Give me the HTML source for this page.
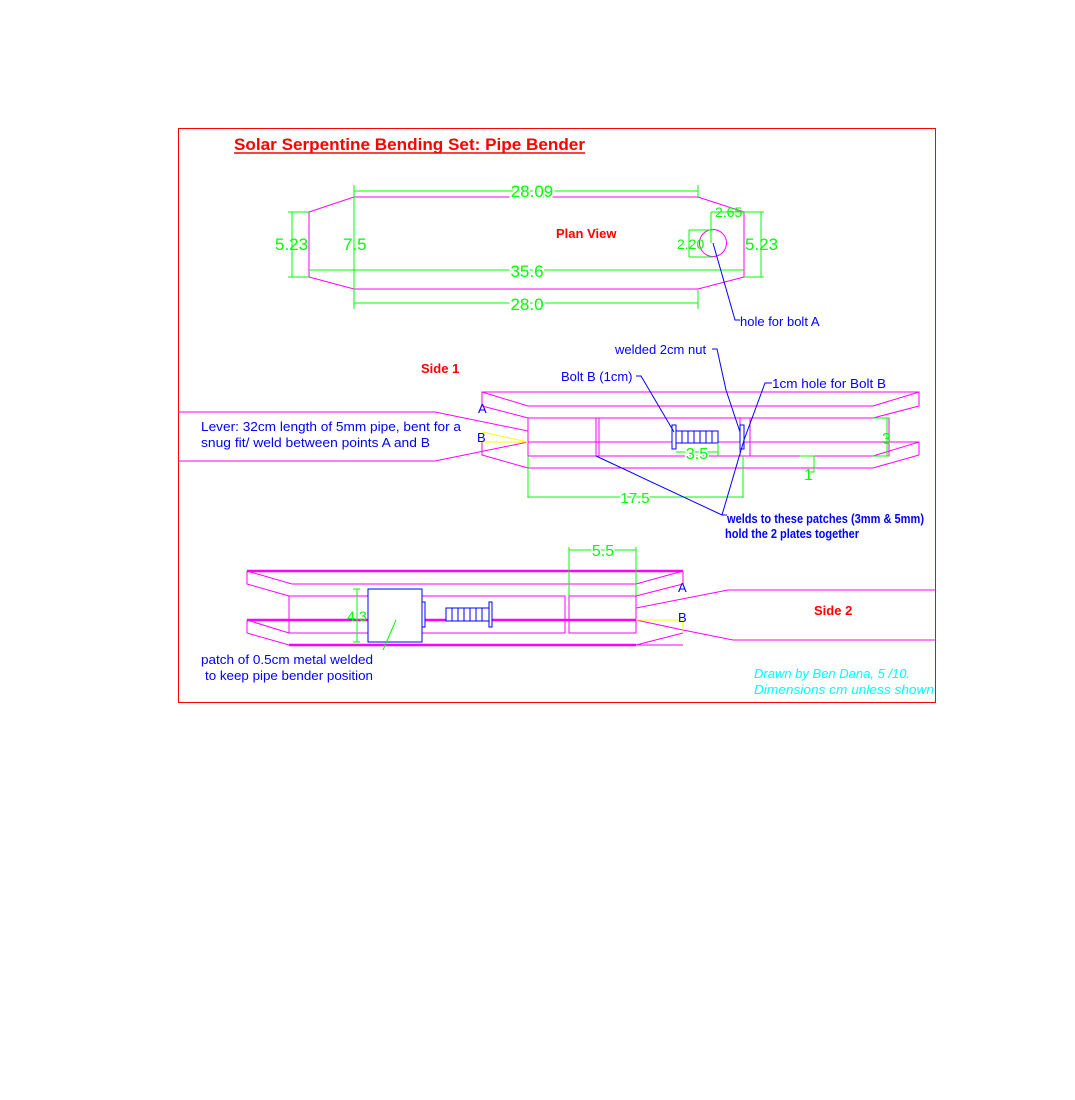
<!DOCTYPE html>
<html><head><meta charset="utf-8"><style>
html,body{margin:0;padding:0;background:#fff;}
svg{display:block;}
text{font-family:"Liberation Sans",Arial,sans-serif;}
.b{fill:#0000ff;font-size:13px;}
.r{fill:#ff0000;font-weight:bold;font-size:13px;}
</style></head><body>
<svg width="1075" height="1100" viewBox="0 0 1075 1100" xmlns="http://www.w3.org/2000/svg">
<rect x="178.5" y="128.5" width="757" height="574" fill="none" stroke="#ff0000" stroke-width="1"/>
<text x="234" y="150" fill="#ff0000" font-weight="bold" font-size="17" textLength="351" lengthAdjust="spacingAndGlyphs">Solar Serpentine Bending Set: Pipe Bender</text>
<line x1="234" y1="153" x2="585" y2="153" stroke="#ff0000" stroke-width="1.5"/>

<!-- Plan view -->
<g fill="none" stroke="#ff00ff" stroke-width="1">
<polygon points="309,212 354,197 698,197 744,212 744,277 698,289 354,289 309,277"/>
<circle cx="713" cy="243" r="13.5"/>
</g>
<g stroke="#00ff00" stroke-width="1" fill="none">
<line x1="354" y1="191" x2="698" y2="191"/><line x1="354" y1="185" x2="354" y2="303"/><line x1="698" y1="185" x2="698" y2="197"/>
<line x1="309" y1="270" x2="744" y2="270"/>
<line x1="354" y1="303" x2="698" y2="303"/><line x1="698" y1="289" x2="698" y2="309"/><line x1="354" y1="289" x2="354" y2="309"/>
<line x1="292" y1="212" x2="292" y2="277"/><line x1="288" y1="212" x2="309" y2="212"/><line x1="288" y1="277" x2="309" y2="277"/>
<line x1="761" y1="212" x2="761" y2="277"/><line x1="744" y1="212" x2="764" y2="212"/><line x1="744" y1="277" x2="764" y2="277"/>
<line x1="689" y1="230" x2="689" y2="257"/><line x1="689" y1="230" x2="713" y2="230"/><line x1="689" y1="257" x2="713" y2="257"/>
<line x1="711" y1="212" x2="711" y2="243"/><line x1="711" y1="212" x2="744" y2="212"/>
</g>
<text x="532" y="197" fill="#00ff00" font-size="17" text-anchor="middle" style="paint-order:stroke" stroke="#fff" stroke-width="4">28.09</text>
<text x="527" y="277" fill="#00ff00" font-size="17" text-anchor="middle" style="paint-order:stroke" stroke="#fff" stroke-width="4">35.6</text>
<text x="527" y="310" fill="#00ff00" font-size="17" text-anchor="middle" style="paint-order:stroke" stroke="#fff" stroke-width="4">28.0</text>
<text x="275" y="250" fill="#00ff00" font-size="17">5.23</text>
<text x="343" y="250" fill="#00ff00" font-size="17">7.5</text>
<text x="745" y="250" fill="#00ff00" font-size="17">5.23</text>
<text x="677" y="249" fill="#00ff00" font-size="14">2.20</text>
<text x="715" y="217" fill="#00ff00" font-size="14">2.65</text>
<text x="556" y="238" class="r">Plan View</text>
<polyline points="713,243 735,320 740,320" fill="none" stroke="#0000ff"/>
<text x="740" y="326" class="b" font-size="14">hole for bolt A</text>

<!-- Side 1 -->
<text x="421" y="373" class="r">Side 1</text>
<g fill="none" stroke="#ff00ff" stroke-width="1">
<polygon points="482,392 919,392 919,406 873,418 528,418 482,406"/>
<polyline points="482,392 528,406 873,406 919,392"/>
<polyline points="178,412 435,412 528,431 528,442 435,461 178,461"/>
<polyline points="482,442 482,455 528,468 873,468 919,455 919,442 873,456 528,456"/>
<line x1="528" y1="442" x2="919" y2="442"/>
<rect x="528" y="418" width="68" height="38"/>
<rect x="599" y="418" width="141" height="38"/>
<rect x="750" y="418" width="139" height="38"/>
</g>
<polyline points="482,442 528,442 482,432" fill="none" stroke="#ffff00"/>
<g fill="#fff" stroke="#0000ff" stroke-width="1">
<rect x="672" y="425" width="4" height="24"/>
<rect x="676" y="431" width="42" height="12"/>
<rect x="740" y="425" width="4" height="24"/>
</g>
<g stroke="#0000ff"><line x1="682" y1="431" x2="682" y2="443"/><line x1="688" y1="431" x2="688" y2="443"/><line x1="694" y1="431" x2="694" y2="443"/><line x1="700" y1="431" x2="700" y2="443"/><line x1="706" y1="431" x2="706" y2="443"/><line x1="712" y1="431" x2="712" y2="443"/></g>
<g stroke="#00ff00" fill="none">
<line x1="676" y1="452" x2="718" y2="452"/><line x1="718" y1="443" x2="718" y2="456"/>
<line x1="873" y1="418" x2="889" y2="418"/><line x1="873" y1="456" x2="889" y2="456"/><line x1="887" y1="418" x2="887" y2="456"/>
<polyline points="800,456 814,456 814,472 808,472"/>
<line x1="528" y1="456" x2="528" y2="498"/><line x1="743" y1="456" x2="743" y2="498"/><line x1="528" y1="497" x2="743" y2="497"/>
</g>
<text x="697" y="459" fill="#00ff00" font-size="16" text-anchor="middle" stroke="#fff" stroke-width="3" style="paint-order:stroke">3.5</text>
<text x="882" y="444" fill="#00ff00" font-size="16">3</text>
<text x="804" y="480" fill="#00ff00" font-size="16">1</text>
<text x="635" y="503" fill="#00ff00" font-size="15" text-anchor="middle" stroke="#fff" stroke-width="3" style="paint-order:stroke">17.5</text>
<text x="478" y="413" class="b">A</text>
<text x="477" y="442" class="b">B</text>
<text x="201" y="431" class="b" font-size="14" textLength="260" lengthAdjust="spacingAndGlyphs">Lever: 32cm length of 5mm pipe, bent for a</text>
<text x="201" y="447" class="b" font-size="14" textLength="229" lengthAdjust="spacingAndGlyphs">snug fit/ weld between points A and B</text>
<g fill="none" stroke="#0000ff" stroke-width="1">
<polyline points="636,376 641,376 674,432"/>
<polyline points="712,349 717,349 726,390 740,432"/>
<polyline points="772,383 765,383 744,440 722,515"/>
<polyline points="596,456 722,515 727,515"/>
</g>
<text x="561" y="381" class="b" font-size="14">Bolt B (1cm)</text>
<text x="615" y="354" class="b" font-size="14">welded 2cm nut</text>
<text x="772" y="388" class="b" font-size="14" textLength="114" lengthAdjust="spacingAndGlyphs">1cm hole for Bolt B</text>
<text x="727" y="523" class="b" font-size="11.5" font-weight="bold" textLength="197" lengthAdjust="spacingAndGlyphs">welds to these patches (3mm &amp; 5mm)</text>
<text x="725" y="538" class="b" font-size="11.5" font-weight="bold" textLength="134" lengthAdjust="spacingAndGlyphs">hold the 2 plates together</text>

<!-- Side 2 -->
<g fill="none" stroke="#ff00ff" stroke-width="1">
<line x1="247" y1="571" x2="683" y2="571" stroke-width="2.5"/>
<polyline points="247,571 247,584 289,596 565,596"/>
<polyline points="247,571 292,584 636,584 683,571"/>
<polyline points="683,571 683,584 636,596 569,596"/>
<rect x="289" y="596" width="276" height="37"/>
<rect x="569" y="596" width="67" height="37"/>
<line x1="247" y1="620" x2="636" y2="620" stroke-width="2.5"/>
<polyline points="247,620 247,633 289,645 683,645"/>
<line x1="289" y1="645" x2="636" y2="645" stroke-width="2.5"/>
<polyline points="247,620 289,633 565,633"/>
<polyline points="636,645 683,633"/>
<polyline points="935,590 728,590 636,608 636,620"/>
<polyline points="636,620 683,630 733,640 935,640"/>
</g>
<polyline points="636,620 683,620 683,630" fill="none" stroke="#ffff00"/>
<g fill="#fff" stroke="#0000ff" stroke-width="1">
<rect x="368" y="589" width="54" height="53"/>
<rect x="422" y="602" width="3" height="25"/>
<rect x="446" y="608" width="43" height="13"/>
<rect x="489" y="602" width="3" height="25"/>
</g>
<g stroke="#0000ff"><line x1="452" y1="608" x2="452" y2="621"/><line x1="458" y1="608" x2="458" y2="621"/><line x1="464" y1="608" x2="464" y2="621"/><line x1="470" y1="608" x2="470" y2="621"/><line x1="476" y1="608" x2="476" y2="621"/><line x1="482" y1="608" x2="482" y2="621"/></g>
<g stroke="#00ff00" fill="none">
<line x1="357" y1="589" x2="357" y2="642"/><line x1="353" y1="589" x2="360" y2="589"/><line x1="353" y1="642" x2="360" y2="642"/>
<line x1="569" y1="550" x2="636" y2="550"/><line x1="569" y1="547" x2="569" y2="596"/><line x1="636" y1="547" x2="636" y2="596"/>
<line x1="396" y1="620" x2="383" y2="650"/>
</g>
<text x="357" y="621" fill="#00ff00" font-size="14" text-anchor="middle">4.3</text>
<text x="603" y="556" fill="#00ff00" font-size="16" text-anchor="middle" stroke="#fff" stroke-width="3" style="paint-order:stroke">5.5</text>
<text x="678" y="592" class="b">A</text>
<text x="678" y="622" class="b">B</text>
<text x="814" y="615" class="r">Side 2</text>
<text x="201" y="664" class="b" textLength="172" lengthAdjust="spacingAndGlyphs">patch of 0.5cm metal welded</text>
<text x="205" y="680" class="b" textLength="168" lengthAdjust="spacingAndGlyphs">to keep pipe bender position</text>
<text x="754" y="678" fill="#00ffff" font-size="13" font-style="italic">Drawn by Ben Dana, 5 /10.</text>
<text x="754" y="694" fill="#00ffff" font-size="13" font-style="italic" textLength="180" lengthAdjust="spacingAndGlyphs">Dimensions cm unless shown</text>
</svg>
</body></html>
